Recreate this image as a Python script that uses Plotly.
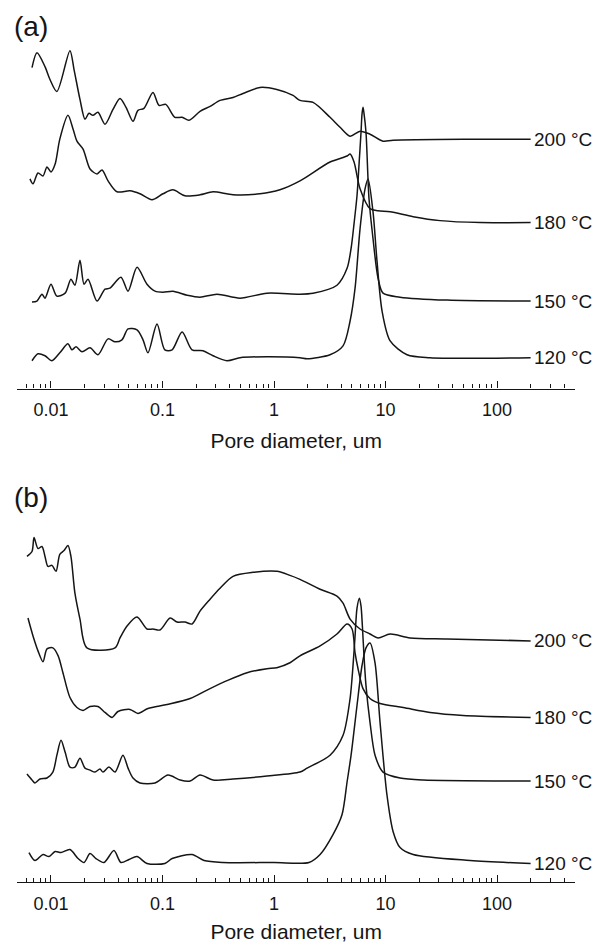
import plotly.graph_objects as go

# ---------------- data (pore diameter in um, stacked intensity in arbitrary units) ----------------
temps = ["200 °C", "180 °C", "150 °C", "120 °C"]

# Panel (a)
d_a200 = [0.00676, 0.00749, 0.00884, 0.0098, 0.0113, 0.0148, 0.0161, 0.0182, 0.0202, 0.0219, 0.0238,
          0.0264, 0.0305, 0.036, 0.0416, 0.0471, 0.0544, 0.0603, 0.0682, 0.0822, 0.093, 0.107, 0.129,
          0.15, 0.173, 0.217, 0.267, 0.328, 0.429, 0.527, 0.749, 1.06, 1.48, 1.71, 2.24, 3.18, 3.91,
          4.81, 5.91, 7.26, 9.5, 11.7, 53.8, 200]
v_a200 = [323, 338, 324, 311, 299, 340, 321, 291, 271, 277, 275,
          278, 266, 281, 292, 283, 269, 280, 282, 298, 285, 286, 273,
          273, 270, 279, 284, 290, 293, 297, 303, 301, 295, 290, 288, 273, 263,
          254, 259, 256, 249, 250, 251, 251]

d_a180 = [0.00648, 0.0069, 0.00765, 0.00848, 0.00921, 0.01, 0.0109, 0.012, 0.0142, 0.0158, 0.0171,
          0.0194, 0.0224, 0.0259, 0.0287, 0.0325, 0.0391, 0.0511, 0.0628, 0.0805, 0.101, 0.124, 0.159,
          0.217, 0.284, 0.429, 0.749, 1.13, 1.71, 3.18, 4.52, 4.81, 5.22, 5.91, 7.26, 8.57, 11.0,
          17.7, 30.8, 70.5, 200]
v_a180 = [211, 206, 217, 214, 223, 218, 226, 251, 275, 261, 249,
          241, 221, 216, 220, 209, 198, 199, 196, 190, 196, 200, 194,
          195, 198, 195, 196, 200, 209, 228, 234, 236, 228, 201, 181, 179, 178,
          173, 169, 167, 167]

d_a150 = [0.00676, 0.00749, 0.0083, 0.00884, 0.01, 0.0113, 0.0134, 0.0151, 0.0164, 0.0182, 0.0198,
          0.0215, 0.0259, 0.0305, 0.0338, 0.0424, 0.0491, 0.0591, 0.0726, 0.0857, 0.101, 0.124, 0.166,
          0.217, 0.308, 0.495, 0.865, 1.71, 2.24, 3.67, 4.52, 4.91, 5.22, 5.55, 5.79, 6.03, 6.15,
          6.28, 6.41, 6.68, 7.11, 7.72, 8.57, 9.5, 13.5, 35.6, 200]
v_a150 = [87, 88, 95, 91, 105, 93, 96, 110, 104, 129, 105,
          110, 88, 100, 101, 112, 98, 122, 105, 98, 97, 98, 94,
          92, 95, 91, 96, 95, 96, 104, 121, 141, 166, 194, 226, 258, 276,
          283, 277, 258, 191, 151, 111, 96, 92, 89, 88]

d_a120 = [0.00676, 0.00765, 0.00884, 0.0102, 0.012, 0.0142, 0.0154, 0.0168, 0.019, 0.0224, 0.0264,
          0.0325, 0.0375, 0.0433, 0.0491, 0.0591, 0.0669, 0.0741, 0.0893, 0.105, 0.122, 0.15, 0.184,
          0.231, 0.284, 0.379, 0.495, 0.865, 1.71, 1.98, 3.18, 4.16, 4.81, 5.33, 5.91, 6.55, 6.97,
          7.72, 8.39, 9.31, 11.0, 15.6, 25.1, 200]
v_a120 = [28, 35, 33, 28, 36, 45, 39, 42, 37, 41, 34,
          50, 47, 49, 60, 59, 49, 36, 65, 39, 39, 57, 39,
          38, 33, 28, 31, 32, 31, 30, 34, 43, 68, 101, 161, 201, 211,
          178, 128, 78, 48, 34, 31, 31]

# Panel (b)
d_b200 = [0.00609, 0.00676, 0.00705, 0.00765, 0.0083, 0.00884, 0.0094, 0.0102, 0.0111, 0.012, 0.0131,
          0.0142, 0.0151, 0.0164, 0.0182, 0.021, 0.0375, 0.0416, 0.0481, 0.0591, 0.0726, 0.0822, 0.095,
          0.117, 0.135, 0.159, 0.184, 0.217, 0.267, 0.328, 0.429, 0.648, 1.06, 1.39, 1.71, 2.59, 3.67,
          4.16, 4.81, 5.91, 7.26, 8.57, 11.0, 16.6, 35.6, 200]
v_b200 = [328, 333, 347, 336, 338, 328, 318, 319, 313, 330, 334,
          339, 328, 291, 265, 236, 236, 246, 258, 267, 255, 255, 254,
          266, 262, 262, 260, 273, 285, 296, 308, 312, 313, 309, 305, 295, 288,
          281, 265, 255, 250, 246, 250, 246, 245, 243]

d_b180 = [0.00622, 0.0069, 0.00765, 0.00848, 0.00921, 0.0104, 0.0116, 0.0128, 0.0148, 0.0171, 0.0194,
          0.0224, 0.0264, 0.0305, 0.0353, 0.0399, 0.0511, 0.0603, 0.0741, 0.11, 0.177, 0.267, 0.379,
          0.573, 0.865, 1.06, 1.39, 1.71, 2.59, 3.67, 4.52, 5.01, 5.33, 5.67, 6.28, 7.26, 8.93,
          14.4, 25.1, 49.6, 200]
v_b180 = [266, 248, 233, 222, 235, 236, 228, 211, 186, 176, 173,
          177, 177, 171, 166, 172, 174, 170, 175, 179, 185, 195, 203,
          211, 215, 216, 221, 228, 238, 250, 260, 255, 231, 215, 195, 185, 180,
          176, 171, 168, 166]

d_b150 = [0.00609, 0.00676, 0.00719, 0.00797, 0.00921, 0.0104, 0.0113, 0.0123, 0.0134, 0.0148, 0.0164,
          0.0182, 0.0202, 0.0224, 0.0248, 0.0275, 0.0293, 0.0331, 0.0375, 0.0442, 0.0491, 0.0544, 0.0628,
          0.0857, 0.112, 0.144, 0.177, 0.217, 0.284, 0.429, 0.865, 1.71, 1.98, 3.18, 4.16, 4.81, 5.11,
          5.33, 5.55, 5.83, 6.03, 6.2, 6.41, 6.68, 7.26, 8.05, 9.5, 13.5, 21.7, 200]
v_b150 = [109, 103, 100, 104, 105, 111, 128, 143, 131, 116, 116,
          125, 115, 113, 111, 114, 111, 116, 111, 128, 115, 105, 100,
          100, 108, 103, 102, 108, 103, 104, 107, 111, 115, 128, 148, 185, 218,
          248, 276, 286, 278, 258, 228, 198, 161, 128, 111, 105, 103, 102]

d_b120 = [0.00635, 0.00719, 0.00848, 0.0096, 0.0109, 0.0123, 0.0148, 0.0175, 0.0198, 0.0224, 0.0253,
          0.0299, 0.0367, 0.0424, 0.0501, 0.0591, 0.0726, 0.105, 0.122, 0.184, 0.236, 0.349, 1.0,
          2.06, 2.59, 3.38, 4.07, 4.52, 4.91, 5.55, 6.15, 6.68, 7.26, 8.05, 8.93, 10.3, 11.7,
          13.5, 17.7, 57.3, 200]
v_b120 = [30, 22, 28, 26, 31, 30, 33, 24, 20, 29, 24,
          20, 32, 20, 23, 26, 19, 19, 24, 28, 22, 20, 20,
          20, 28, 48, 68, 101, 128, 178, 218, 236, 241, 221, 161, 88, 51,
          35, 28, 22, 19]

panel_a = [(d_a200, v_a200), (d_a180, v_a180), (d_a150, v_a150), (d_a120, v_a120)]
panel_b = [(d_b200, v_b200), (d_b180, v_b180), (d_b150, v_b150), (d_b120, v_b120)]

major_ticks = [0.01, 0.1, 1, 10, 100]
major_text = ["0.01", "0.1", "1", "10", "100"]
minor_ticks = [m * 10.0 ** e for e in range(-3, 3) for m in range(2, 10)
               if 0.0049 < m * 10.0 ** e < 501 and m * 10.0 ** e not in major_ticks]

FONT = "Liberation Sans, Arial, Helvetica, sans-serif"
INK = "#151515"
LINE = dict(color=INK, width=1.5, shape="spline", smoothing=0.8)

fig = go.Figure()
for (d, v), name in zip(panel_a, temps):
    fig.add_trace(go.Scatter(x=d, y=v, mode="lines", line=LINE, name=name,
                             xaxis="x", yaxis="y", showlegend=False))
for (d, v), name in zip(panel_b, temps):
    fig.add_trace(go.Scatter(x=d, y=v, mode="lines", line=LINE, name=name,
                             xaxis="x2", yaxis="y2", showlegend=False))

annotations = []
for panel, xref, yref in ((panel_a, "x", "y"), (panel_b, "x2", "y2")):
    for (d, v), name in zip(panel, temps):
        annotations.append(dict(x=2.30103, y=v[-1], xref=xref, yref=yref, text=name,
                                showarrow=False, xanchor="left", yanchor="middle", xshift=1,
                                font=dict(family=FONT, size=19, color=INK)))
annotations.append(dict(x=0.006, y=1.0, xref="paper", yref="paper", text="(a)", showarrow=False,
                        xanchor="left", yanchor="top", yshift=-1,
                        font=dict(family=FONT, size=28, color=INK)))
annotations.append(dict(x=0.006, y=0.4935, xref="paper", yref="paper", text="(b)", showarrow=False,
                        xanchor="left", yanchor="top", yshift=-1,
                        font=dict(family=FONT, size=28, color=INK)))

xcommon = dict(type="log", range=[-2.30103, 2.69897], domain=[0.01577, 0.95134],
               showline=True, linecolor=INK, linewidth=1.2, showgrid=False, zeroline=False,
               ticks="inside", ticklen=7, tickwidth=1.1, tickcolor=INK,
               tickmode="array", tickvals=major_ticks, ticktext=major_text,
               ticklabelstandoff=5,
               tickfont=dict(family=FONT, size=18, color=INK),
               minor=dict(tickmode="array", tickvals=minor_ticks, ticks="inside",
                          ticklen=4, tickwidth=1, tickcolor=INK, showgrid=False),
               title=dict(text="Pore diameter, um", font=dict(family=FONT, size=21, color=INK),
                          standoff=14))
ycommon = dict(visible=False, showgrid=False, zeroline=False, fixedrange=True)

fig.update_layout(
    width=596, height=935,
    margin=dict(l=0, r=0, t=0, b=0),
    paper_bgcolor="white", plot_bgcolor="white",
    xaxis=dict(xcommon, anchor="y"),
    xaxis2=dict(xcommon, anchor="y2"),
    yaxis=dict(ycommon, domain=[0.59037, 0.98610], range=[0, 370]),
    yaxis2=dict(ycommon, domain=[0.05882, 0.48663], range=[0, 400]),
    annotations=annotations,
)

fig.write_html("out.html")
